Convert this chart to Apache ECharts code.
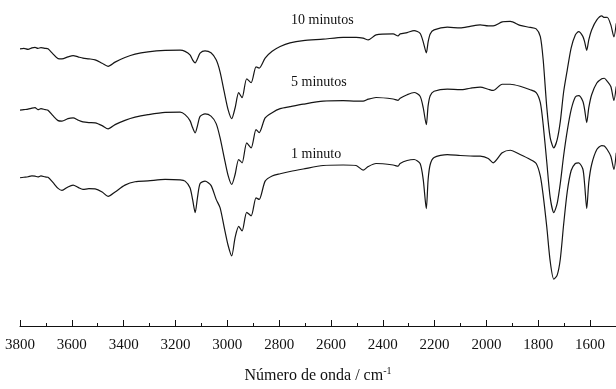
<!DOCTYPE html>
<html>
<head>
<meta charset="utf-8">
<script src="https://cdn.jsdelivr.net/npm/echarts@6/dist/echarts.min.js"></script>
<style>html,body{margin:0;padding:0;background:#fff}#c{width:616px;height:389px}</style>
</head>
<body>
<div id="c"></div>
<script>
// Wavenumber (cm-1) sample positions
const wavenumbers = [3800,3785,3769,3754,3742,3731,3719,3703,3692,3673,3653,3638,3615,3595,3576,3557,3534,3510,3483,3460,3433,3395,3356,3306,3240,3182,3163,3144,3134,3124,3115,3105,3086,3063,3043,3028,3012,2997,2983,2970,2956,2943,2925,2908,2889,2877,2854,2827,2796,2758,2707,2630,2553,2503,2476,2456,2426,2360,2341,2333,2306,2279,2256,2244,2232,2225,2217,2202,2151,2101,2063,2024,1993,1974,1939,1908,1870,1831,1808,1792,1781,1767,1754,1740,1727,1715,1702,1688,1673,1657,1644,1628,1621,1613,1605,1594,1574,1555,1545,1534,1520,1508,1499];
// Transmittance (arbitrary units, offset traces)
const trace10 = [243,243.5,242.5,244,244.5,243.5,244.2,243.5,243,238,233.2,233,235,236.3,235,233.7,233,232,228.5,225.5,229.7,234.3,237.7,240,241.5,241.7,240.5,237,232,229,233,238.7,241,239,232,220,200,182,173,183.7,199,194,213,209,225,223.7,233.7,240.5,245.3,249,251.3,252.7,254.5,254.5,253.7,252,257,258,256,258,259.3,261.3,258.5,250,239,250,258,262,264.7,264,265.5,267,266,266,270,270.5,266.5,264.5,263,255.3,232,184,154,143.7,152,170,200,222,244,257,260.3,255.5,250,241.5,252,262,272,276,274.5,274.7,267,255,268.7];
const trace5 = [181.5,182,182.5,183.5,184,182,183,182,181.5,176,171,170.5,173,173.7,171.5,169.7,169,168.7,166,162.7,167,171.3,174.5,177,179.3,179.5,177,171,164,158.7,166,175.3,177.7,175.5,168,154,134,116,107,117,132,128.7,148.7,143.7,162,159,173.7,179,183,185,187.5,190.5,191,190.5,190.5,192.5,194.2,192.7,191.3,193.5,197,199.2,195.5,184,167,186,196,200.5,202.7,202,203.5,204.7,202.5,201.3,207.5,207.5,205.5,202,199.2,189,167,129,94,78.7,88,108,136,161,182,194.7,196,190.5,182,169,184,197,208.7,213,213.5,210.5,205.3,191.3,205.3];
const trace1 = [113.7,114.2,114.7,115.5,115.3,114.5,115.5,114.5,114.2,109,103,101,104.5,106.3,104,102,102.7,102.5,99.5,95,99.5,106.3,109.7,110.5,112,111.5,110.3,103.7,92,78.7,94,108,110.3,106,92,83.7,64,46,35.3,53.7,65,60.3,79,75.5,93.5,92,110.3,115.5,117.7,120,122.5,126,126.5,126,121.3,125,128,126.5,125.3,128,131,132,128,112,82.7,112,127,134,137,136,135.5,135.3,133,128.7,138.7,141.3,137,132,128,115.3,96,64,30,12,16,32,67,100,121,128,128.7,122.5,107,82.7,109,127,142,146,145.5,142,135.3,122,138.7];
const seriesNames = ['10 minutos', '5 minutos', '1 minuto'];
const majorTicks = [3800,3600,3400,3200,3000,2800,2600,2400,2200,2000,1800,1600];
const minorTicks = [3700,3500,3300,3100,2900,2700,2500,2300,2100,1900,1700];

const chart = echarts.init(document.getElementById('c'), null, {renderer: 'canvas'});
const traces = [trace10, trace5, trace1];
const labelTops = [13, 75, 147];
const serif = '"Liberation Serif", "Times New Roman", serif';

chart.setOption({
  animation: false,
  backgroundColor: '#fff',
  grid: {left: 20, right: 0, top: 0, bottom: 62, containLabel: false},
  xAxis: [{
    type: 'value', min: 1500, max: 3800, inverse: true,
    name: '{a|Número de onda / cm}{s|-1}',
    nameLocation: 'middle', nameGap: 40,
    nameTextStyle: {rich: {
      a: {fontFamily: serif, fontSize: 16, color: '#111', verticalAlign: 'bottom'},
      s: {fontFamily: serif, fontSize: 10, color: '#111', verticalAlign: 'bottom', padding: [0,0,8,0]}
    }},
    axisLine: {show: true, onZero: false, lineStyle: {color: '#111', width: 1}},
    axisTick: {show: true, inside: true, length: 6, customValues: majorTicks, lineStyle: {color: '#111', width: 1}},
    axisLabel: {customValues: majorTicks, margin: 12, fontFamily: serif, fontSize: 15, color: '#111',
      formatter: v => String(v)},
    splitLine: {show: false}
  }, {
    type: 'value', min: 1500, max: 3800, inverse: true, position: 'bottom', offset: 0,
    axisLine: {show: false, onZero: false},
    axisTick: {show: true, inside: true, length: 3, customValues: minorTicks, lineStyle: {color: '#111', width: 1}},
    axisLabel: {show: false},
    splitLine: {show: false}
  }],
  yAxis: {type: 'value', min: -35, max: 292, show: false, splitLine: {show: false}},
  graphic: seriesNames.map((n, i) => ({
    type: 'text', left: 291, top: labelTops[i],
    style: {text: n, font: '14px ' + serif, fill: '#111'}
  })),
  series: traces.map((t, i) => ({
    name: seriesNames[i], type: 'line', xAxisIndex: 0,
    data: wavenumbers.map((w, j) => [w, t[j]]),
    showSymbol: false, smooth: 0.25,
    lineStyle: {color: '#151515', width: 1.2}
  }))
});
</script>
</body>
</html>
